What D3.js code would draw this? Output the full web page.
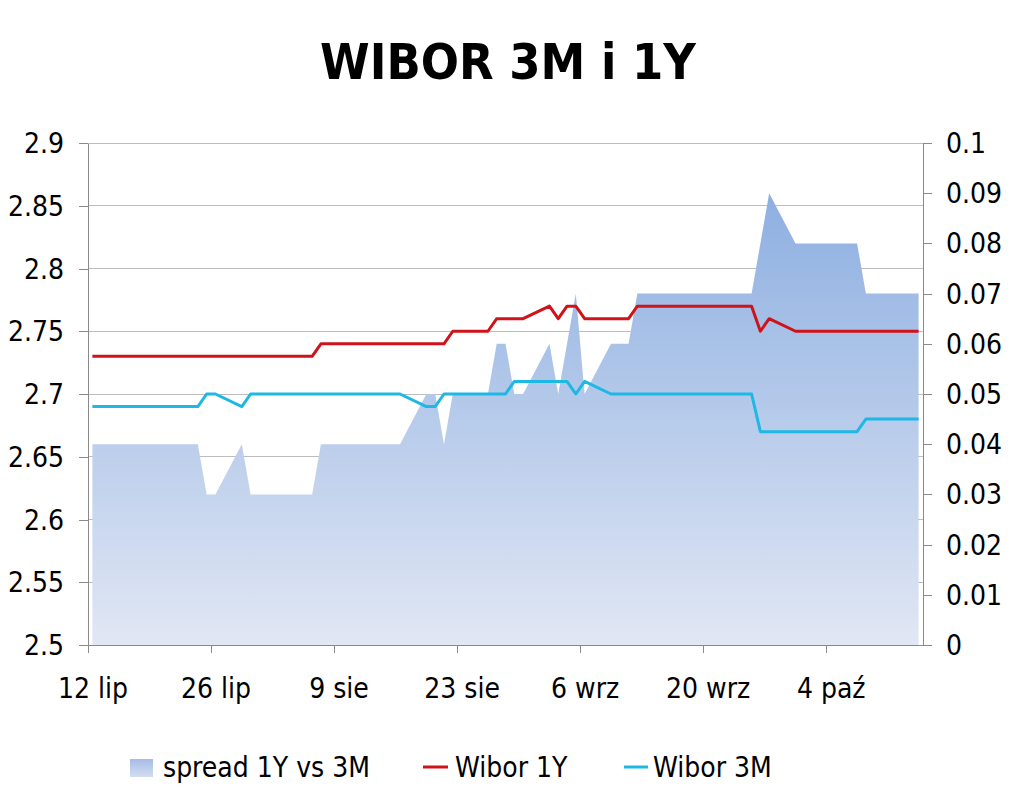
<!DOCTYPE html>
<html>
<head>
<meta charset="utf-8">
<script src="https://cdn.jsdelivr.net/npm/d3@7"></script>
<style>
  html, body { margin: 0; padding: 0; background: #fff; }
  svg text { font-family: 'DejaVu Sans Condensed', 'DejaVu Sans', sans-serif; font-stretch: condensed; fill: #000; }
</style>
</head>
<body>
<svg id="chart" width="1024" height="791"></svg>
<script>
// ---- data ----
const dates = [
  "2013-07-12","2013-07-15","2013-07-16","2013-07-17","2013-07-18","2013-07-19",
  "2013-07-22","2013-07-23","2013-07-24","2013-07-25","2013-07-26",
  "2013-07-29","2013-07-30","2013-07-31","2013-08-01","2013-08-02",
  "2013-08-05","2013-08-06","2013-08-07","2013-08-08","2013-08-09",
  "2013-08-12","2013-08-13","2013-08-14","2013-08-16",
  "2013-08-19","2013-08-20","2013-08-21","2013-08-22","2013-08-23",
  "2013-08-26","2013-08-27","2013-08-28","2013-08-29","2013-08-30",
  "2013-09-02","2013-09-03","2013-09-04","2013-09-05","2013-09-06",
  "2013-09-09","2013-09-10","2013-09-11","2013-09-12","2013-09-13",
  "2013-09-16","2013-09-17","2013-09-18","2013-09-19","2013-09-20",
  "2013-09-23","2013-09-24","2013-09-25","2013-09-26","2013-09-27",
  "2013-09-30","2013-10-01","2013-10-02","2013-10-03","2013-10-04",
  "2013-10-07","2013-10-08","2013-10-09","2013-10-10","2013-10-11",
  "2013-10-14"
];
const wibor1Y = [
  2.73,2.73,2.73,2.73,2.73,2.73,
  2.73,2.73,2.73,2.73,2.73,
  2.73,2.73,2.73,2.73,2.73,
  2.73,2.73,2.74,2.74,2.74,
  2.74,2.74,2.74,2.74,
  2.74,2.74,2.74,2.75,2.75,
  2.75,2.76,2.76,2.76,2.76,
  2.77,2.76,2.77,2.77,2.76,
  2.76,2.76,2.76,2.77,2.77,
  2.77,2.77,2.77,2.77,2.77,
  2.77,2.77,2.77,2.75,2.76,
  2.75,2.75,2.75,2.75,2.75,
  2.75,2.75,2.75,2.75,2.75,
  2.75
];
const wibor3M = [
  2.69,2.69,2.69,2.69,2.69,2.69,
  2.69,2.69,2.69,2.70,2.70,
  2.69,2.70,2.70,2.70,2.70,
  2.70,2.70,2.70,2.70,2.70,
  2.70,2.70,2.70,2.70,
  2.69,2.69,2.70,2.70,2.70,
  2.70,2.70,2.70,2.71,2.71,
  2.71,2.71,2.71,2.70,2.71,
  2.70,2.70,2.70,2.70,2.70,
  2.70,2.70,2.70,2.70,2.70,
  2.70,2.70,2.70,2.67,2.67,
  2.67,2.67,2.67,2.67,2.67,
  2.67,2.68,2.68,2.68,2.68,
  2.68
];
const spread = [
  0.04,0.04,0.04,0.04,0.04,0.04,
  0.04,0.04,0.04,0.03,0.03,
  0.04,0.03,0.03,0.03,0.03,
  0.03,0.03,0.04,0.04,0.04,
  0.04,0.04,0.04,0.04,
  0.05,0.05,0.04,0.05,0.05,
  0.05,0.06,0.06,0.05,0.05,
  0.06,0.05,0.06,0.07,0.05,
  0.06,0.06,0.06,0.07,0.07,
  0.07,0.07,0.07,0.07,0.07,
  0.07,0.07,0.07,0.08,0.09,
  0.08,0.08,0.08,0.08,0.08,
  0.08,0.07,0.07,0.07,0.07,
  0.07
];
const leftTicks = [2.5, 2.55, 2.6, 2.65, 2.7, 2.75, 2.8, 2.85, 2.9];
const leftTickLabels = ["2.5","2.55","2.6","2.65","2.7","2.75","2.8","2.85","2.9"];
const rightTicks = [0, 0.01, 0.02, 0.03, 0.04, 0.05, 0.06, 0.07, 0.08, 0.09, 0.1];
const rightTickLabels = ["0","0.01","0.02","0.03","0.04","0.05","0.06","0.07","0.08","0.09","0.1"];
const xTickDates = ["2013-07-12","2013-07-26","2013-08-09","2013-08-23","2013-09-06","2013-09-20","2013-10-04"];
const xTickLabels = ["12 lip","26 lip","9 sie","23 sie","6 wrz","20 wrz","4 paź"];
const xDomain = ["2013-07-12","2013-10-15"];
const titleText = "WIBOR 3M i 1Y";
const seriesNames = ["spread 1Y vs 3M", "Wibor 1Y", "Wibor 3M"];

// ---- layout ----
const plot = { left: 88, right: 923, top: 143, bottom: 645 };
const parse = d3.utcParse("%Y-%m-%d");
const DAY = 864e5;
const svg = d3.select("#chart");

const x = d3.scaleUtc().domain(xDomain.map(parse)).range([plot.left, plot.right]);
const yL = d3.scaleLinear().domain([2.5, 2.9]).range([plot.bottom, plot.top]);
const yR = d3.scaleLinear().domain([0, 0.1]).range([plot.bottom, plot.top]);
const halfDay = (x(new Date(parse(xDomain[0]).getTime() + DAY)) - x(parse(xDomain[0]))) / 2;

const data = dates.map((d, i) => ({
  t: new Date(parse(d).getTime() + DAY / 2),
  y1: wibor1Y[i], m3: wibor3M[i], s: spread[i]
}));

// gradient
const defs = svg.append("defs");
const grad = defs.append("linearGradient").attr("id", "areaGrad")
  .attr("gradientUnits", "userSpaceOnUse")
  .attr("x1", 0).attr("x2", 0)
  .attr("y1", yR(d3.max(spread))).attr("y2", yR(0));
grad.append("stop").attr("offset", "0%").attr("stop-color", "#8dafe1");
grad.append("stop").attr("offset", "100%").attr("stop-color", "#e1e7f4");
const grad2 = defs.append("linearGradient").attr("id", "swatchGrad")
  .attr("x1", 0).attr("x2", 0).attr("y1", 0).attr("y2", 1);
grad2.append("stop").attr("offset", "0%").attr("stop-color", "#a6bce6");
grad2.append("stop").attr("offset", "100%").attr("stop-color", "#d3ddf1");

// gridlines
svg.append("g").selectAll("line").data(leftTicks.slice(1)).join("line")
  .attr("x1", plot.left).attr("x2", plot.right)
  .attr("y1", d => yL(d)).attr("y2", d => yL(d))
  .attr("stroke", "#bdbdbd").attr("stroke-width", 1).attr("shape-rendering", "crispEdges");

// area
svg.append("path").datum(data)
  .attr("fill", "url(#areaGrad)")
  .attr("d", d3.area().x(d => x(d.t)).y0(yR(0)).y1(d => yR(d.s)));

// lines
svg.append("path").datum(data)
  .attr("fill", "none").attr("stroke", "#d0121b").attr("stroke-width", 3)
  .attr("stroke-linejoin", "round")
  .attr("d", d3.line().x(d => x(d.t)).y(d => yL(d.y1)));
svg.append("path").datum(data)
  .attr("fill", "none").attr("stroke", "#1db8e4").attr("stroke-width", 3)
  .attr("stroke-linejoin", "round")
  .attr("d", d3.line().x(d => x(d.t)).y(d => yL(d.m3)));

// axes
const axisColor = "#8a8a8a";
function styleAxis(g, size) {
  g.selectAll(".domain").attr("stroke", axisColor).attr("shape-rendering", "crispEdges");
  g.selectAll(".tick line").attr("stroke", axisColor).attr("shape-rendering", "crispEdges");
  g.selectAll("text").attr("font-size", size).attr("fill", "#000")
    .attr("font-family", "'DejaVu Sans Condensed','DejaVu Sans',sans-serif");
}
const gL = svg.append("g").attr("transform", `translate(${plot.left},0)`)
  .call(d3.axisLeft(yL).tickValues(leftTicks).tickSize(9).tickSizeOuter(0).tickPadding(15)
    .tickFormat((d, i) => leftTickLabels[i]));
styleAxis(gL, 28);
gL.selectAll("text").attr("dy", "0.34em");

const gR = svg.append("g").attr("transform", `translate(${plot.right},0)`)
  .call(d3.axisRight(yR).tickValues(rightTicks).tickSize(9).tickSizeOuter(0).tickPadding(14)
    .tickFormat((d, i) => rightTickLabels[i]));
styleAxis(gR, 28);
gR.selectAll("text").attr("dy", "0.34em");

const gB = svg.append("g").attr("transform", `translate(0,${plot.bottom})`)
  .call(d3.axisBottom(x).tickValues(xTickDates.map(parse)).tickSize(8).tickSizeOuter(0).tickPadding(25)
    .tickFormat((d, i) => xTickLabels[i]));
styleAxis(gB, 28);
gB.selectAll("text").attr("x", halfDay);

// title
svg.append("text").attr("x", 508).attr("y", 79).attr("text-anchor", "middle")
  .attr("font-size", 50).attr("font-weight", "bold").text(titleText);

// legend
const lg = svg.append("g");
lg.append("rect").attr("x", 130).attr("y", 759).attr("width", 23).attr("height", 18)
  .attr("fill", "url(#swatchGrad)");
lg.append("text").attr("x", 163).attr("y", 777).attr("font-size", 28).text(seriesNames[0]);
lg.append("line").attr("x1", 423).attr("x2", 448).attr("y1", 767).attr("y2", 767)
  .attr("stroke", "#d0121b").attr("stroke-width", 3);
lg.append("text").attr("x", 455).attr("y", 777).attr("font-size", 28).text(seriesNames[1]);
lg.append("line").attr("x1", 624).attr("x2", 648).attr("y1", 767).attr("y2", 767)
  .attr("stroke", "#1db8e4").attr("stroke-width", 3);
lg.append("text").attr("x", 653).attr("y", 777).attr("font-size", 28).text(seriesNames[2]);
</script>
</body>
</html>
